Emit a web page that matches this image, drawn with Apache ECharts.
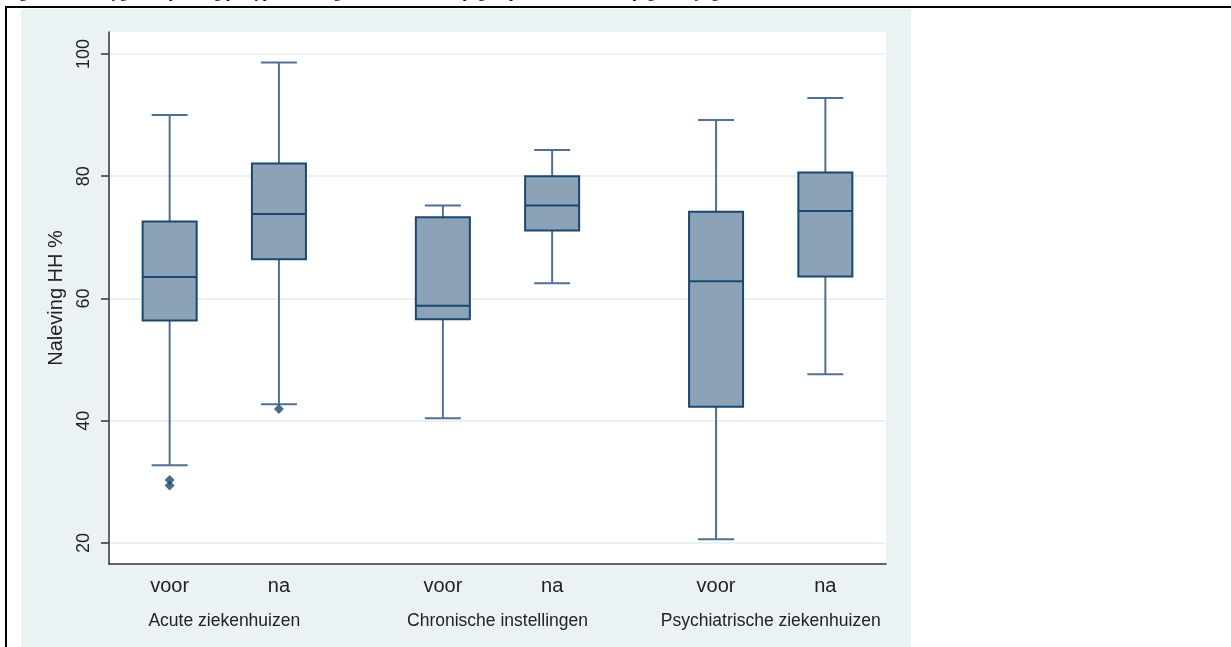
<!DOCTYPE html>
<html>
<head>
<meta charset="utf-8">
<script src="https://cdn.jsdelivr.net/npm/echarts@6/dist/echarts.min.js"></script>
<style>
html,body{margin:0;padding:0;background:#ffffff;}
#chart{width:1231px;height:647px;}
</style>
</head>
<body>
<div id="chart"></div>
<script>
// ---- data ----
const categories = ['voor', 'na', 'voor', 'na', 'voor', 'na'];
const groups = ['Acute ziekenhuizen', 'Chronische instellingen', 'Psychiatrische ziekenhuizen'];
const xPositions = [0, 1, 2.5, 3.5, 5, 6];
const groupPositions = [0.5, 3, 5.5];
const lowerWhisker = [32.7, 42.7, 40.4, 62.5, 20.6, 47.6];
const q1 = [56.4, 66.4, 56.6, 71.1, 42.3, 63.6];
const median = [63.5, 73.8, 58.8, 75.2, 62.8, 74.3];
const q3 = [72.6, 82.1, 73.3, 80.0, 74.2, 80.6];
const upperWhisker = [90.0, 98.6, 75.2, 84.3, 89.2, 92.8];
const outlierX = [0, 0, 1];
const outlierY = [30.3, 29.4, 41.9];
const yTicks = [20, 40, 60, 80, 100];
const yTitle = 'Naleving HH %';
const captionText = 'Figuur 3: Handhygiëne, spreiding per type instelling voor en na de campagne, per ziekenhuis, zie pagina, bijlage';

const NAVY = '#1a476f';
const FILL = '#8ca3b7';
const WHISK = '#4f7092';

const boxData = xPositions.map((x, i) => [x, lowerWhisker[i], q1[i], median[i], q3[i], upperWhisker[i]]);
const outlierData = outlierX.map((xi, i) => [xPositions[xi], outlierY[i]]);

const chart = echarts.init(document.getElementById('chart'), null, {renderer: 'canvas'});

const option = {
  animation: false,
  backgroundColor: '#ffffff',
  graphic: [
    {type: 'rect', left: 21, top: 9, shape: {width: 890, height: 640}, style: {fill: '#eaf2f3'}, z: -10, silent: true},
    {type: 'rect', left: 109, top: 32, shape: {width: 777, height: 532}, style: {fill: '#ffffff'}, z: -9, silent: true},
    {type: 'rect', left: 5, top: 6, shape: {width: 1226, height: 2}, style: {fill: '#000000'}, silent: true},
    {type: 'rect', left: 5, top: 6, shape: {width: 2, height: 641}, style: {fill: '#000000'}, silent: true},
    {type: 'text', x: 6, y: 1, style: {text: captionText, font: '16px "Liberation Serif"', fill: '#000', verticalAlign: 'bottom'}, silent: true}
  ],
  grid: {left: 109, top: 32, right: 345, bottom: 83, containLabel: false},
  xAxis: [
    {
      type: 'value', min: -0.555, max: 6.555,
      axisLine: {show: true, onZero: false, lineStyle: {color: '#333333', width: 1.5}},
      axisTick: {show: false},
      splitLine: {show: false},
      axisLabel: {
        customValues: xPositions,
        margin: 12,
        fontFamily: 'Liberation Sans', fontSize: 20, color: '#222222',
        formatter: function (v) {
          const i = xPositions.findIndex(p => Math.abs(p - v) < 1e-6);
          return i >= 0 ? categories[i] : '';
        }
      }
    },
    {
      type: 'value', min: -0.555, max: 6.555, position: 'bottom',
      axisLine: {show: false}, axisTick: {show: false}, splitLine: {show: false},
      axisLabel: {
        customValues: groupPositions,
        margin: 48,
        fontFamily: 'Liberation Sans', fontSize: 17.5, color: '#222222',
        formatter: function (v) {
          const i = groupPositions.findIndex(p => Math.abs(p - v) < 1e-6);
          return i >= 0 ? groups[i] : '';
        }
      }
    }
  ],
  yAxis: {
    type: 'value', min: 16.55, max: 103.6,
    name: yTitle, nameLocation: 'middle', nameRotate: 90, nameGap: 43,
    nameTextStyle: {fontFamily: 'Liberation Sans', fontSize: 20, color: '#222222'},
    axisLine: {show: true, onZero: false, lineStyle: {color: '#333333', width: 1.5}},
    axisTick: {show: true, customValues: yTicks, length: 8, lineStyle: {color: '#333333', width: 1.5}},
    axisLabel: {customValues: yTicks, rotate: 90, margin: 16, fontFamily: 'Liberation Sans', fontSize: 18, color: '#222222'},
    splitLine: {show: false}
  },
  series: [
    {
      type: 'scatter',
      name: 'grid',
      xAxisIndex: 0,
      z: 0,
      data: [],
      silent: true,
      markLine: {
        z: 0,
        silent: true, symbol: ['none', 'none'], label: {show: false},
        lineStyle: {color: '#e4eef1', width: 1.5, type: 'solid'},
        data: yTicks.map(v => ({yAxis: v}))
      }
    },
    {
      type: 'custom',
      xAxisIndex: 0,
      z: 3,
      data: boxData,
      encode: {x: 0, y: [1, 2, 3, 4, 5]},
      clip: false,
      renderItem: function (params, api) {
        const x = api.value(0);
        const lo = api.coord([x, api.value(1)]);
        const b1 = api.coord([x, api.value(2)]);
        const md = api.coord([x, api.value(3)]);
        const b3 = api.coord([x, api.value(4)]);
        const hi = api.coord([x, api.value(5)]);
        const cx = lo[0];
        const bw = 54, cw = 36;
        const ws = {stroke: WHISK, lineWidth: 2};
        return {
          type: 'group',
          children: [
            {type: 'line', shape: {x1: cx, y1: hi[1], x2: cx, y2: b3[1]}, style: ws},
            {type: 'line', shape: {x1: cx, y1: b1[1], x2: cx, y2: lo[1]}, style: ws},
            {type: 'line', shape: {x1: cx - cw / 2, y1: hi[1], x2: cx + cw / 2, y2: hi[1]}, style: ws},
            {type: 'line', shape: {x1: cx - cw / 2, y1: lo[1], x2: cx + cw / 2, y2: lo[1]}, style: ws},
            {type: 'rect', shape: {x: cx - bw / 2, y: b3[1], width: bw, height: b1[1] - b3[1]}, style: {fill: FILL, stroke: NAVY, lineWidth: 2}},
            {type: 'line', shape: {x1: cx - bw / 2, y1: md[1], x2: cx + bw / 2, y2: md[1]}, style: {stroke: NAVY, lineWidth: 2}}
          ]
        };
      }
    },
    {
      type: 'scatter',
      xAxisIndex: 0,
      z: 4,
      data: outlierData,
      symbol: 'diamond',
      symbolSize: 10,
      itemStyle: {color: NAVY}
    }
  ]
};
chart.setOption(option);
</script>
</body>
</html>
